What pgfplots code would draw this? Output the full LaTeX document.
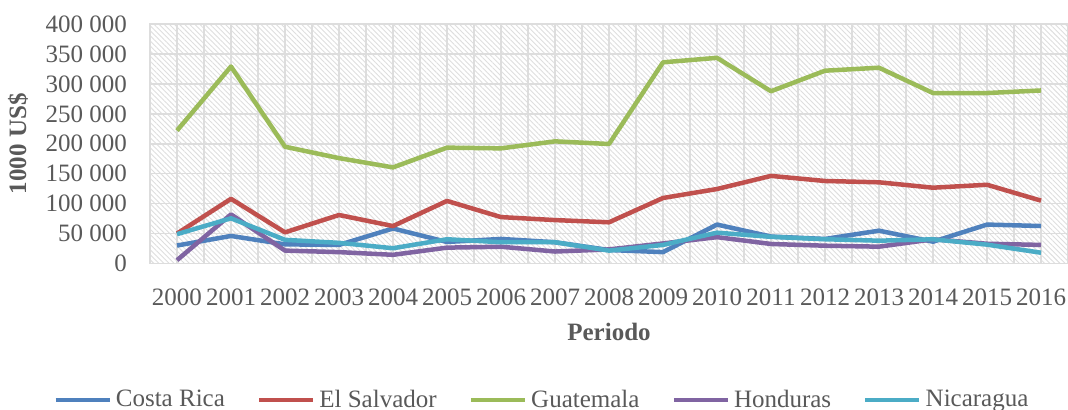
\documentclass[border=0pt]{standalone}
\usepackage{fontspec}
\setmainfont{Liberation Serif}
\usepackage{pgfplots}
\usepackage{pgfplotstable}
\pgfplotsset{compat=1.18}
\usetikzlibrary{patterns.meta}
\definecolor{txt}{HTML}{595959}
\definecolor{gridc}{HTML}{DDDDDD}
\definecolor{hatch}{HTML}{DEDEDE}
\definecolor{cr}{HTML}{4F81BD}
\definecolor{sv}{HTML}{C0504D}
\definecolor{gt}{HTML}{9BBB59}
\definecolor{hn}{HTML}{8064A2}
\definecolor{ni}{HTML}{4BACC6}

\pgfplotstableread{
x  cr     sv      gt      hn     ni
0  30000  50000   222000  5500   49000
1  46000  108000  329000  82000  75500
2  32000  52000   195000  21500  39500
3  31000  81000   176000  19000  34500
4  58500  62500   160500  14500  25500
5  36000  104500  193500  26500  40500
6  41000  77500   192300  28000  35500
7  35500  72500   204000  20000  35500
8  22500  68800   199600  23500  21500
9  19000  109400  336000  33500  31000
10 65000  124400  343500  44000  51500
11 45000  146300  287700  32600  44500
12 41000  137800  322000  29700  40500
13 54800  135600  327000  28100  38100
14 36400  126600  284700  40400  40400
15 65000  131500  284700  33000  31500
16 62600  105000  289000  31000  18000
}\datatable

\begin{document}
\begin{tikzpicture}
\begin{axis}[
  width=459pt, height=119.75pt, scale only axis,
  xmin=-0.5, xmax=16.5, ymin=0, ymax=400000,
  xtick={0,...,16},
  xticklabels={2000,2001,2002,2003,2004,2005,2006,2007,2008,2009,2010,2011,2012,2013,2014,2015,2016},
  minor x tick num=1,
  ytick={0,50000,...,400000},
  scaled y ticks=false,
  yticklabel style={/pgf/number format/.cd, fixed, 1000 sep={\ }, assume math mode=true},
  tick label style={font=\fontsize{12.5}{14}\selectfont, color=txt},
  major tick length=0pt, minor tick length=0pt,
  yticklabel shift=8pt,
  xticklabel shift=9pt,
  grid=both,
  major grid style={gridc, line width=0.8pt},
  minor grid style={gridc, line width=0.8pt},
  axis line style={gridc, line width=0.8pt},
  axis background/.style={pattern={Lines[angle=-45, distance=1.8pt, line width=0.45pt]}, pattern color=hatch},
  xlabel={\textbf{Periodo}},
  ylabel={\textbf{1000 US\$}},
  label style={font=\fontsize{12.5}{14}\selectfont, color=txt},
  xlabel style={yshift=-2pt},
  ylabel style={yshift=2pt},
  legend columns=5,
  legend style={at={(0.428,-0.57)}, anchor=center, draw=none, fill=none,
    font=\fontsize{12.5}{14}\selectfont, text=txt,
    /tikz/every even column/.append style={column sep=14pt}},
  legend image code/.code={\draw[#1, line width=2.25pt] (0pt,0pt) -- (27pt,0pt);},
  every axis plot/.append style={line width=2.25pt, mark=none, line join=round},
  clip=false,
]
\addplot[cr] table[x=x, y=cr] {\datatable};
\addplot[sv] table[x=x, y=sv] {\datatable};
\addplot[gt] table[x=x, y=gt] {\datatable};
\addplot[hn] table[x=x, y=hn] {\datatable};
\addplot[ni] table[x=x, y=ni] {\datatable};
\legend{Costa Rica, El Salvador, Guatemala, Honduras, Nicaragua}
\coordinate (bl) at (rel axis cs:0,0);
\coordinate (tr) at (rel axis cs:1,1);
\end{axis}
\pgfresetboundingbox
\path[use as bounding box] ([xshift=-75pt, yshift=-73.25pt]bl) rectangle ([yshift=12pt]tr);
\end{tikzpicture}
\end{document}
